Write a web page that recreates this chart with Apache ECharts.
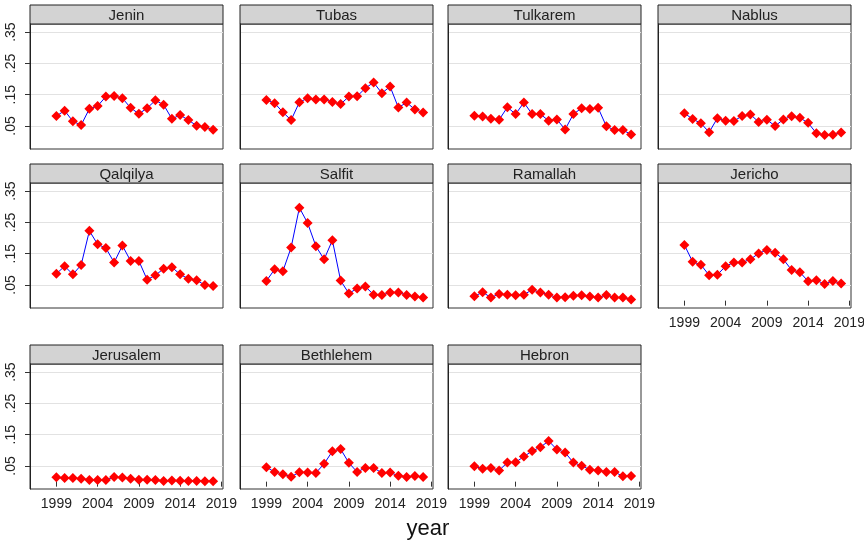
<!DOCTYPE html>
<html>
<head>
<meta charset="utf-8">
<script src="https://cdn.jsdelivr.net/npm/echarts@6/dist/echarts.min.js"></script>
<style>
  html, body { margin: 0; padding: 0; background: #fff; }
  #chart { width: 864px; height: 540px; }
</style>
</head>
<body>
<div id="chart"></div>
<script>
// data
var years = [1999, 2000, 2001, 2002, 2003, 2004, 2005, 2006, 2007, 2008,
             2009, 2010, 2011, 2012, 2013, 2014, 2015, 2016, 2017, 2018];
var regions = ['Jenin', 'Tubas', 'Tulkarem', 'Nablus', 'Qalqilya', 'Salfit',
               'Ramallah', 'Jericho', 'Jerusalem', 'Bethlehem', 'Hebron'];
var jenin     = [0.082, 0.099, 0.065, 0.053, 0.105, 0.114, 0.144, 0.146, 0.139, 0.108, 0.089, 0.107, 0.132, 0.118, 0.073, 0.085, 0.069, 0.051, 0.047, 0.038];
var tubas     = [0.133, 0.123, 0.094, 0.069, 0.126, 0.139, 0.135, 0.135, 0.127, 0.120, 0.144, 0.145, 0.171, 0.189, 0.155, 0.176, 0.109, 0.125, 0.103, 0.093];
var tulkarem  = [0.083, 0.080, 0.073, 0.070, 0.110, 0.088, 0.125, 0.088, 0.088, 0.067, 0.071, 0.039, 0.088, 0.107, 0.104, 0.108, 0.049, 0.037, 0.037, 0.023];
var nablus    = [0.091, 0.072, 0.059, 0.030, 0.075, 0.067, 0.066, 0.082, 0.087, 0.063, 0.070, 0.050, 0.071, 0.081, 0.076, 0.060, 0.027, 0.021, 0.022, 0.029];
var qalqilya  = [0.086, 0.110, 0.084, 0.114, 0.223, 0.180, 0.168, 0.122, 0.176, 0.127, 0.127, 0.067, 0.081, 0.102, 0.107, 0.084, 0.070, 0.065, 0.050, 0.047];
var salfit    = [0.063, 0.100, 0.094, 0.170, 0.297, 0.248, 0.174, 0.132, 0.193, 0.064, 0.023, 0.039, 0.045, 0.019, 0.018, 0.026, 0.026, 0.018, 0.013, 0.010];
var ramallah  = [0.014, 0.027, 0.010, 0.021, 0.019, 0.017, 0.019, 0.035, 0.026, 0.019, 0.010, 0.011, 0.016, 0.017, 0.013, 0.010, 0.018, 0.010, 0.010, 0.004];
var jericho   = [0.178, 0.124, 0.115, 0.081, 0.083, 0.110, 0.122, 0.122, 0.132, 0.151, 0.162, 0.153, 0.132, 0.098, 0.091, 0.062, 0.065, 0.053, 0.063, 0.055];
var jerusalem = [0.014, 0.012, 0.012, 0.009, 0.005, 0.005, 0.005, 0.015, 0.013, 0.009, 0.006, 0.006, 0.005, 0.002, 0.004, 0.003, 0.002, 0.002, 0.001, 0.001];
var bethlehem = [0.046, 0.031, 0.024, 0.016, 0.030, 0.029, 0.028, 0.057, 0.097, 0.104, 0.060, 0.031, 0.044, 0.044, 0.028, 0.029, 0.019, 0.015, 0.018, 0.015];
var hebron    = [0.049, 0.041, 0.044, 0.036, 0.061, 0.062, 0.080, 0.098, 0.110, 0.130, 0.103, 0.093, 0.061, 0.051, 0.038, 0.036, 0.031, 0.031, 0.017, 0.018];
var values = [jenin, tubas, tulkarem, nablus, qalqilya, salfit, ramallah, jericho, jerusalem, bethlehem, hebron];

var yTicks = [0.05, 0.15, 0.25, 0.35];
var xTicks = [1999, 2004, 2009, 2014, 2019];
var xTitle = 'year';

// layout
var colLeft = [30, 240, 448, 658];
var headerTop = [5, 164, 345];
var panelW = 193, headerH = 19, plotH = 125;
var showXLabels = [7, 8, 9, 10];
var font = '"Liberation Sans", Arial, sans-serif';

var grids = [], xAxes = [], yAxes = [], series = [], graphics = [];

regions.forEach(function (name, i) {
    var col = i % 4, row = Math.floor(i / 4);
    var left = colLeft[col], top = headerTop[row];
    var xLab = showXLabels.indexOf(i) >= 0;
    var yLab = col === 0;

    grids.push({
        left: left, top: top + headerH, width: panelW, height: plotH,
        containLabel: false, outerBoundsMode: 'none',
        show: true, borderColor: '#333', borderWidth: 1, backgroundColor: '#fff'
    });
    xAxes.push({
        type: 'value', gridIndex: i, min: 1995.8, max: 2019.2,
        axisLine: { show: false },
        axisTick: { show: xLab, length: 5, customValues: xTicks, lineStyle: { color: '#333' } },
        axisLabel: {
            show: xLab, customValues: xTicks, margin: 8,
            fontSize: 14, fontFamily: font, color: '#222',
            formatter: function (v) { return String(v); }
        },
        splitLine: { show: false }
    });
    yAxes.push({
        type: 'value', gridIndex: i, min: -0.0235, max: 0.376,
        axisLine: { show: true, lineStyle: { color: '#222', width: 1 } },
        axisTick: { show: yLab, length: 5, customValues: yTicks, lineStyle: { color: '#333' } },
        axisLabel: {
            show: yLab, customValues: yTicks, rotate: 90, margin: 12,
            fontSize: 14, fontFamily: font, color: '#222',
            formatter: function (v) { return v.toFixed(2).replace(/^0/, ''); }
        },
        splitLine: { show: true, lineStyle: { color: '#e2e2e2', width: 1 } }
    });
    series.push({
        type: 'line', name: name, xAxisIndex: i, yAxisIndex: i,
        data: years.map(function (y, k) { return [y, values[i][k]]; }),
        symbol: 'diamond', symbolSize: 10,
        lineStyle: { color: '#0000ff', width: 1 },
        itemStyle: { color: '#ff0000' },
        silent: true, animation: false
    });
    graphics.push({
        type: 'rect',
        shape: { x: left, y: top, width: panelW, height: headerH },
        style: { fill: '#d3d3d3', stroke: '#222', lineWidth: 1 }
    });
    graphics.push({
        type: 'text', x: left + panelW / 2, y: top + headerH / 2 + 1,
        style: {
            text: name, fill: '#222', font: '15px ' + font,
            align: 'center', verticalAlign: 'middle'
        }
    });
});

graphics.push({
    type: 'text', x: 428, y: 529,
    style: { text: xTitle, fill: '#111', font: '22px ' + font, align: 'center', verticalAlign: 'middle' }
});

var chart = echarts.init(document.getElementById('chart'));
chart.setOption({
    backgroundColor: '#fff',
    animation: false,
    grid: grids,
    xAxis: xAxes,
    yAxis: yAxes,
    series: series,
    graphic: graphics
});
</script>
</body>
</html>
